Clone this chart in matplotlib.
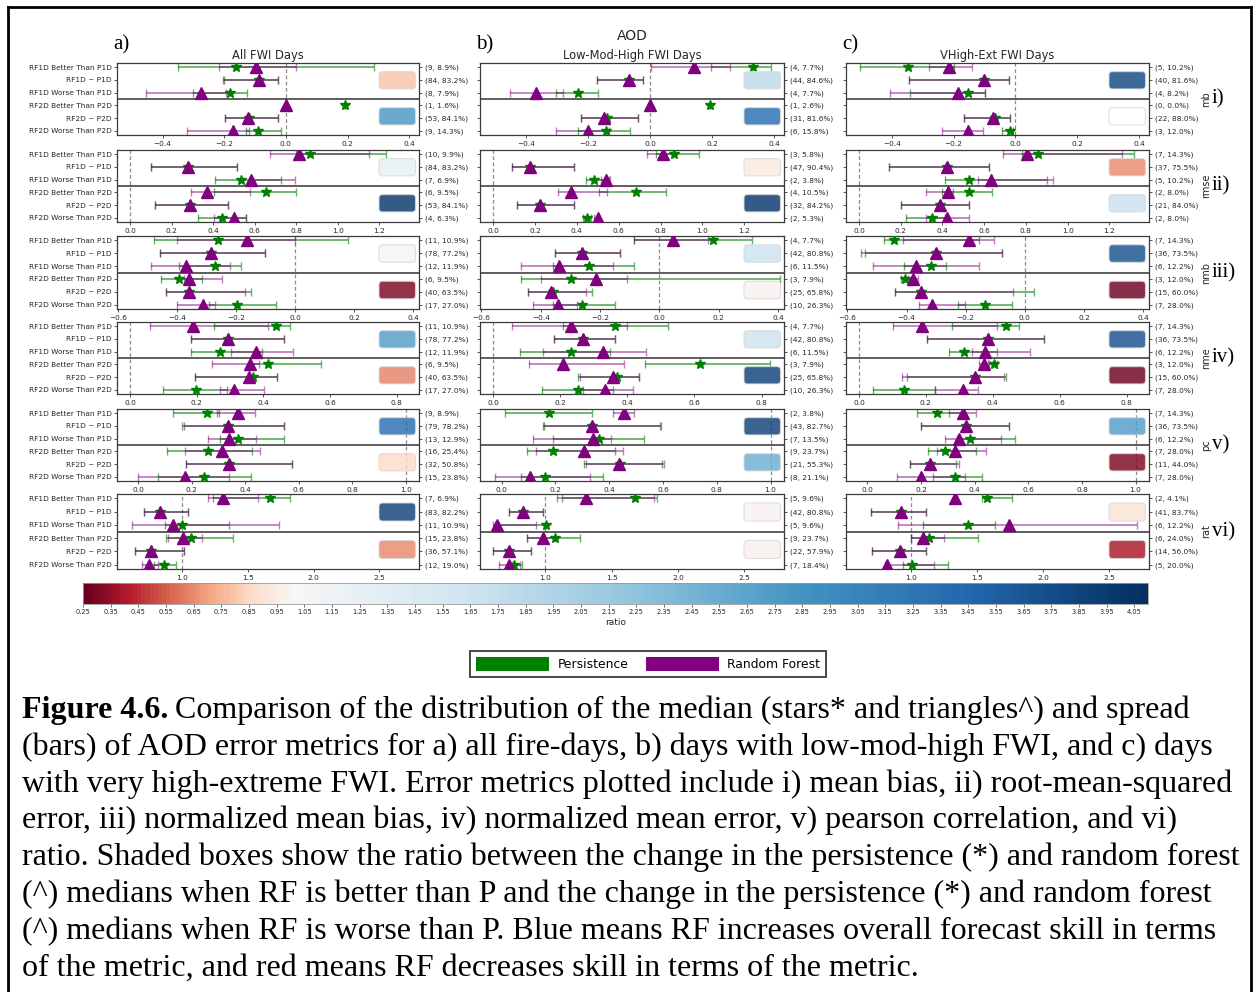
import numpy as np
import matplotlib
matplotlib.use("Agg")
import matplotlib.pyplot as plt
from matplotlib.colors import ListedColormap, Normalize
from matplotlib.patches import FancyBboxPatch, Patch
from matplotlib.lines import Line2D
from matplotlib.cm import ScalarMappable
from matplotlib.ticker import MultipleLocator

# ---------------------------------------------------------------- data
row_labels = ["RF1D Better Than P1D", "RF1D ~ P1D", "RF1D Worse Than P1D",
              "RF2D Better Than P2D", "RF2D ~ P2D", "RF2D Worse Than P2D"]
col_tags = ["a)", "b)", "c)"]
col_titles = ["All FWI Days", "Low-Mod-High FWI Days", "VHigh-Ext FWI Days"]
metric_names = ["mb", "rmse", "nmb", "nme", "pc", "rat"]
metric_tags = ["i)", "ii)", "iii)", "iv)", "v)", "vi)"]
ref_values = [0.0, 0.0, 0.0, 0.0, 1.0, 1.0]
x_limits = [(-0.548, 0.432), (-0.0625, 1.39), (-0.605, 0.42),
            (-0.039, 0.867), (-0.08, 1.05), (0.507, 2.80)]
x_steps = [0.2, 0.2, 0.2, 0.2, 0.2, 0.5]

NAN3 = (np.nan, np.nan, np.nan)

# (low, median, high) per row; one list per column a, b, c
mb_persist = [
    [(-0.351, -0.161, 0.286), (-0.202, -0.088, -0.026), (-0.303, -0.181, -0.126),
     (0.192, 0.192, 0.192), (-0.199, -0.120, -0.027), (-0.130, -0.091, -0.016)],
    [(0.196, 0.332, 0.391), (-0.170, -0.068, -0.022), (-0.304, -0.233, -0.169),
     (0.194, 0.194, 0.194), (-0.221, -0.140, -0.040), (-0.232, -0.143, -0.065)],
    [(-0.502, -0.346, -0.199), (-0.344, -0.102, -0.021), (-0.340, -0.153, -0.100),
     NAN3, (-0.166, -0.065, -0.016), (-0.043, -0.018, -0.008)],
]
mb_rf = [
    [(-0.216, -0.097, 0.034), (-0.204, -0.086, -0.026), (-0.454, -0.275, -0.194),
     (0.0, 0.0, 0.0), (-0.199, -0.123, -0.027), (-0.321, -0.170, -0.121)],
    [(0.002, 0.142, 0.257), (-0.170, -0.068, -0.022), (-0.451, -0.367, -0.280),
     (0.0, 0.0, 0.0), (-0.221, -0.148, -0.040), (-0.302, -0.199, -0.132)],
    [(-0.281, -0.214, -0.140), (-0.344, -0.102, -0.021), (-0.405, -0.185, -0.100),
     NAN3, (-0.166, -0.073, -0.016), (-0.238, -0.153, -0.104)],
]
rmse_persist = [
    [(0.80, 0.864, 1.232), (0.101, 0.280, 0.515), (0.408, 0.533, 0.728),
     (0.405, 0.653, 0.800), (0.120, 0.291, 0.469), (0.328, 0.443, 0.560)],
    [(0.78, 0.863, 0.982), (0.092, 0.177, 0.388), (0.443, 0.480, 0.555),
     (0.507, 0.681, 0.828), (0.114, 0.222, 0.388), (0.430, 0.447, 0.470)],
    [(0.78, 0.859, 1.317), (0.144, 0.420, 0.623), (0.410, 0.527, 0.899),
     (0.400, 0.527, 0.638), (0.203, 0.388, 0.527), (0.223, 0.348, 0.410)],
]
rmse_rf = [
    [(0.672, 0.813, 1.149), (0.101, 0.280, 0.515), (0.576, 0.581, 0.792),
     (0.293, 0.368, 0.576), (0.120, 0.291, 0.469), (0.405, 0.499, 0.560)],
    [(0.735, 0.811, 0.860), (0.092, 0.177, 0.388), (0.515, 0.538, 0.559),
     (0.309, 0.372, 0.546), (0.114, 0.222, 0.388), (0.480, 0.502, 0.505)],
    [(0.691, 0.806, 1.261), (0.144, 0.420, 0.623), (0.571, 0.634, 0.931),
     (0.322, 0.426, 0.450), (0.203, 0.388, 0.527), (0.319, 0.420, 0.527)],
]
nmb_persist = [
    [(-0.478, -0.261, 0.178), (-0.459, -0.286, -0.102), (-0.394, -0.272, -0.183),
     (-0.454, -0.394, -0.316), (-0.440, -0.360, -0.149), (-0.292, -0.199, -0.066)],
    [(-0.087, 0.179, 0.311), (-0.353, -0.260, -0.132), (-0.358, -0.237, -0.085),
     (-0.466, -0.297, 0.407), (-0.443, -0.360, -0.229), (-0.358, -0.260, -0.150)],
    [(-0.478, -0.441, -0.154), (-0.540, -0.302, -0.078), (-0.409, -0.316, -0.268),
     (-0.420, -0.406, -0.380), (-0.439, -0.350, 0.030), (-0.227, -0.135, -0.042)],
]
nmb_rf = [
    [(-0.403, -0.163, 0.0), (-0.459, -0.286, -0.102), (-0.490, -0.370, -0.221),
     (-0.379, -0.361, -0.247), (-0.440, -0.359, -0.169), (-0.401, -0.314, -0.272)],
    [(-0.087, 0.045, 0.164), (-0.353, -0.260, -0.132), (-0.466, -0.337, -0.155),
     (-0.399, -0.215, -0.111), (-0.443, -0.367, -0.249), (-0.427, -0.341, -0.277)],
    [(-0.413, -0.190, -0.104), (-0.553, -0.302, -0.078), (-0.512, -0.369, -0.154),
     (-0.395, -0.378, -0.360), (-0.439, -0.350, -0.039), (-0.359, -0.313, -0.204)],
]
nme_persist = [
    [(0.253, 0.438, 0.480), (0.183, 0.295, 0.463), (0.183, 0.270, 0.395),
     (0.360, 0.415, 0.573), (0.195, 0.368, 0.440), (0.100, 0.197, 0.290)],
    [(0.209, 0.363, 0.520), (0.182, 0.269, 0.363), (0.080, 0.232, 0.348),
     (0.453, 0.617, 0.824), (0.252, 0.368, 0.435), (0.147, 0.252, 0.358)],
    [(0.279, 0.440, 0.477), (0.202, 0.387, 0.552), (0.269, 0.315, 0.412),
     (0.390, 0.405, 0.412), (0.142, 0.347, 0.440), (0.042, 0.134, 0.227)],
]
nme_rf = [
    [(0.060, 0.188, 0.415), (0.183, 0.295, 0.463), (0.303, 0.378, 0.490),
     (0.245, 0.360, 0.387), (0.195, 0.358, 0.440), (0.270, 0.312, 0.402)],
    [(0.057, 0.232, 0.398), (0.182, 0.269, 0.363), (0.149, 0.328, 0.455),
     (0.106, 0.209, 0.391), (0.259, 0.358, 0.435), (0.269, 0.333, 0.418)],
    [(0.102, 0.189, 0.412), (0.202, 0.387, 0.552), (0.337, 0.377, 0.512),
     (0.360, 0.375, 0.385), (0.129, 0.347, 0.434), (0.227, 0.310, 0.357)],
]
pc_persist = [
    [(0.131, 0.255, 0.300), (0.170, 0.334, 0.545), (0.305, 0.374, 0.545),
     (0.106, 0.259, 0.426), (0.178, 0.339, 0.573), (0.075, 0.247, 0.421)],
    [(0.012, 0.178, 0.338), (0.157, 0.336, 0.590), (0.191, 0.364, 0.530),
     (0.093, 0.190, 0.422), (0.305, 0.440, 0.595), (0.074, 0.160, 0.377)],
    [(0.183, 0.258, 0.357), (0.200, 0.368, 0.527), (0.335, 0.384, 0.551),
     (0.227, 0.291, 0.403), (0.157, 0.235, 0.332), (0.244, 0.326, 0.427)],
]
pc_rf = [
    [(0.293, 0.374, 0.436), (0.164, 0.334, 0.545), (0.262, 0.339, 0.440),
     (0.174, 0.314, 0.455), (0.178, 0.339, 0.573), (0.0, 0.174, 0.339)],
    [(0.416, 0.456, 0.494), (0.153, 0.336, 0.593), (0.117, 0.340, 0.406),
     (0.128, 0.305, 0.453), (0.314, 0.438, 0.604), (-0.025, 0.107, 0.330)],
    [(0.304, 0.356, 0.406), (0.200, 0.368, 0.527), (0.291, 0.341, 0.498),
     (0.260, 0.326, 0.442), (0.157, 0.235, 0.341), (0.109, 0.198, 0.362)],
]
rat_persist = [
    [(1.233, 1.666, 1.822), (0.715, 0.836, 1.044), (0.869, 1.000, 1.360),
     (0.879, 1.069, 1.385), (0.647, 0.766, 1.013), (0.790, 0.867, 0.955)],
    [(1.122, 1.675, 1.845), (0.728, 0.830, 0.982), (0.620, 1.003, 1.003),
     (0.860, 1.071, 1.261), (0.607, 0.728, 0.888), (0.749, 0.766, 0.825)],
    [(1.535, 1.573, 1.763), (0.694, 0.927, 1.116), (1.091, 1.432, 1.636),
     (0.997, 1.136, 1.503), (0.700, 0.914, 1.116), (0.939, 1.010, 1.280)],
]
rat_rf = [
    [(1.198, 1.309, 1.577), (0.715, 0.836, 1.044), (0.621, 0.932, 1.734),
     (0.894, 1.008, 1.152), (0.647, 0.766, 1.013), (0.697, 0.753, 0.820)],
    [(1.091, 1.307, 1.820), (0.728, 0.830, 0.982), (0.607, 0.635, 0.930),
     (0.860, 0.982, 1.070), (0.607, 0.728, 0.888), (0.647, 0.723, 0.805)],
    [(1.333, 1.333, 1.333), (0.694, 0.927, 1.116), (0.904, 1.737, 2.707),
     (0.997, 1.086, 1.250), (0.700, 0.914, 1.116), (0.800, 0.821, 1.174)],
]

# sample counts and shares per row (column a, b, c)
mb_counts = [[9, 84, 8, 1, 53, 9], [4, 44, 4, 1, 31, 6], [5, 40, 4, 0, 22, 3]]
mb_pct = [[8.9, 83.2, 7.9, 1.6, 84.1, 14.3], [7.7, 84.6, 7.7, 2.6, 81.6, 15.8],
          [10.2, 81.6, 8.2, 0.0, 88.0, 12.0]]
rmse_counts = [[10, 84, 7, 6, 53, 4], [3, 47, 2, 4, 32, 2], [7, 37, 5, 2, 21, 2]]
rmse_pct = [[9.9, 83.2, 6.9, 9.5, 84.1, 6.3], [5.8, 90.4, 3.8, 10.5, 84.2, 5.3],
            [14.3, 75.5, 10.2, 8.0, 84.0, 8.0]]
nmb_counts = [[11, 78, 12, 6, 40, 17], [4, 42, 6, 3, 25, 10], [7, 36, 6, 3, 15, 7]]
nmb_pct = [[10.9, 77.2, 11.9, 9.5, 63.5, 27.0], [7.7, 80.8, 11.5, 7.9, 65.8, 26.3],
           [14.3, 73.5, 12.2, 12.0, 60.0, 28.0]]
nme_counts = [[11, 78, 12, 6, 40, 17], [4, 42, 6, 3, 25, 10], [7, 36, 6, 3, 15, 7]]
nme_pct = [[10.9, 77.2, 11.9, 9.5, 63.5, 27.0], [7.7, 80.8, 11.5, 7.9, 65.8, 26.3],
           [14.3, 73.5, 12.2, 12.0, 60.0, 28.0]]
pc_counts = [[9, 79, 13, 16, 32, 15], [2, 43, 7, 9, 21, 8], [7, 36, 6, 7, 11, 7]]
pc_pct = [[8.9, 78.2, 12.9, 25.4, 50.8, 23.8], [3.8, 82.7, 13.5, 23.7, 55.3, 21.1],
          [14.3, 73.5, 12.2, 28.0, 44.0, 28.0]]
rat_counts = [[7, 83, 11, 15, 36, 12], [5, 42, 5, 9, 22, 7], [2, 41, 6, 6, 14, 5]]
rat_pct = [[6.9, 82.2, 10.9, 23.8, 57.1, 19.0], [9.6, 80.8, 9.6, 23.7, 57.9, 18.4],
           [4.1, 83.7, 12.2, 24.0, 56.0, 20.0]]

# ratio of median changes, [RF1D block, RF2D block] per column
mb_ratio = [[0.79, 2.80], [1.80, 3.36], [3.79, np.nan]]
rmse_ratio = [[1.25, 4.00], [0.94, 4.00], [0.655, 1.70]]
nmb_ratio = [[1.10, 0.31], [1.65, 0.98], [3.70, 0.28]]
nme_ratio = [[2.74, 0.64], [1.65, 3.90], [3.70, 0.28]]
pc_ratio = [[3.36, 0.865], [3.90, 2.55], [2.74, 0.31]]
rat_ratio = [[3.90, 0.655], [0.98, 0.97], [0.90, 0.40]]

persist_sets = [mb_persist, rmse_persist, nmb_persist, nme_persist, pc_persist, rat_persist]
rf_sets = [mb_rf, rmse_rf, nmb_rf, nme_rf, pc_rf, rat_rf]
count_sets = [mb_counts, rmse_counts, nmb_counts, nme_counts, pc_counts, rat_counts]
pct_sets = [mb_pct, rmse_pct, nmb_pct, nme_pct, pc_pct, rat_pct]
ratio_sets = [mb_ratio, rmse_ratio, nmb_ratio, nme_ratio, pc_ratio, rat_ratio]

CB_MIN, CB_MAX = 0.25, 4.10

caption_lines = [
    "Comparison of the distribution of the median (stars* and triangles^) and spread",
    "(bars) of AOD error metrics for a) all fire-days, b) days with low-mod-high FWI, and c) days",
    "with very high-extreme FWI. Error metrics plotted include i) mean bias, ii) root-mean-squared",
    "error, iii) normalized mean bias, iv) normalized mean error, v) pearson correlation, and vi)",
    "ratio. Shaded boxes show the ratio between the change in the persistence (*) and random forest",
    "(^) medians when RF is better than P and the change in the persistence (*) and random forest",
    "(^) medians when RF is worse than P. Blue means RF increases overall forecast skill in terms",
    "of the metric, and red means RF decreases skill in terms of the metric.",
]

# ---------------------------------------------------------------- layout
W, H = 1255, 992
fig = plt.figure(figsize=(W / 100, H / 100), dpi=100)
fig.patch.set_facecolor("white")


def fx(px):
    return px / W


def fy(py):
    return 1 - py / H


col_left = [117, 480, 846]
col_right = [419, 784, 1149]
blk_top = [63, 150, 236, 322, 409, 494]
blk_bot = [135, 222, 309, 394, 481, 569]

P_COLOR = "#008000"
RF_COLOR = "#800080"
TXT = "#262626"
SPINE = "#3a3a3a"
FS = 5.3

base = plt.get_cmap("RdBu")
vals = np.linspace(CB_MIN, CB_MAX, 256)
pos = np.where(vals < 1, 0.5 * (vals - CB_MIN) / (1 - CB_MIN),
               0.5 + 0.5 * (vals - 1) / (CB_MAX - 1))
ratio_cmap = ListedColormap(base(pos))
ratio_norm = Normalize(CB_MIN, CB_MAX)


def draw_stat(ax, y, stat, color, marker, ms, bar_alpha, z):
    lo, med, hi = stat
    if np.isnan(med):
        return
    ax.errorbar([med], [y], xerr=[[med - lo], [hi - med]], fmt="none",
                ecolor=color, alpha=bar_alpha, elinewidth=1.3, capsize=2.6,
                capthick=1.0, zorder=z)
    ax.plot([med], [y], marker=marker, color=color, ms=ms, ls="none",
            mec=color, zorder=z + 2)


def add_box(x0, y0, x1, y1, value):
    if np.isnan(value):
        fc = "white"
    else:
        fc = ratio_cmap(ratio_norm(value))
    box = FancyBboxPatch((fx(x0), fy(y1)), fx(x1 - x0), (y1 - y0) / H,
                         boxstyle="round,pad=0,rounding_size=0.0028",
                         mutation_aspect=W / H, transform=fig.transFigure,
                         facecolor=fc, edgecolor="#d9d9d9", lw=0.8, alpha=0.82,
                         zorder=5)
    fig.add_artist(box)


for c in range(3):
    for m in range(6):
        top, bot = blk_top[m], blk_bot[m]
        ax = fig.add_axes([fx(col_left[c]), fy(bot), fx(col_right[c] - col_left[c]),
                           (bot - top) / H])
        ax.set_facecolor("white")
        ax.set_xlim(*x_limits[m])
        ax.set_ylim(5.32, -0.32)
        ax.xaxis.set_major_locator(MultipleLocator(x_steps[m]))
        ax.set_yticks(range(6))
        if c == 0:
            ax.set_yticklabels(row_labels)
        else:
            ax.set_yticklabels([])
        ax.tick_params(axis="both", labelsize=FS, colors=SPINE, labelcolor=TXT,
                       length=2.5, width=0.6, pad=1.5)
        for sp in ax.spines.values():
            sp.set_color(SPINE)
            sp.set_linewidth(0.9)
        ax.axvline(ref_values[m], color="#8c8c8c", lw=0.9, ls=(0, (3, 2)), zorder=1)
        ax.axhline(2.5, color="#505050", lw=1.3, zorder=2)

        for r in range(6):
            draw_stat(ax, r, persist_sets[m][c][r], P_COLOR, "*", 7.5, 0.6, 3)
            draw_stat(ax, r, rf_sets[m][c][r], RF_COLOR, "^", 8.0, 0.5, 4)

        ax2 = ax.twinx()
        ax2.set_ylim(ax.get_ylim())
        ax2.set_yticks(range(6))
        ax2.set_yticklabels([f"({n}, {p:.1f}%)" for n, p in
                             zip(count_sets[m][c], pct_sets[m][c])])
        ax2.tick_params(axis="y", labelsize=FS, colors=SPINE, labelcolor=TXT,
                        length=2.5, width=0.6, pad=1.5)
        for sp in ax2.spines.values():
            sp.set_visible(False)

        # shaded ratio boxes
        hgt = bot - top
        bx1 = col_right[c] - 3.5
        bx0 = bx1 - 36.5
        add_box(bx0, top + 0.12 * hgt, bx1, top + 0.36 * hgt, ratio_sets[m][c][0])
        add_box(bx0, top + 0.62 * hgt, bx1, top + 0.86 * hgt, ratio_sets[m][c][1])

        if c == 2:
            mid = 0.5 * (top + bot)
            fig.text(fx(1206), fy(mid), metric_names[m], rotation=90, fontsize=7,
                     color=TXT, ha="center", va="center")
            fig.text(fx(1212), fy(mid), metric_tags[m], fontsize=15,
                     family="Liberation Serif", ha="left", va="center")

    cx = 0.5 * (col_left[c] + col_right[c])
    fig.text(fx(cx), fy(55), col_titles[c], fontsize=8.3, color=TXT,
             ha="center", va="center")
    fig.text(fx(col_left[c] - 4), fy(45), col_tags[c], fontsize=15,
             family="Liberation Serif", ha="left", va="center")

fig.text(fx(0.5 * (col_left[1] + col_right[1])), fy(36), "AOD", fontsize=10,
         color=TXT, ha="center", va="center")

# ---------------------------------------------------------------- colorbar
cax = fig.add_axes([fx(83), fy(604), fx(1148 - 83), 21 / H])
cb = fig.colorbar(ScalarMappable(norm=ratio_norm, cmap=ratio_cmap), cax=cax,
                  orientation="horizontal")
ticks = np.round(np.arange(0.25, 4.06, 0.1), 2)
cb.set_ticks(ticks)
cb.set_ticklabels([f"{t:.2f}" for t in ticks])
cb.ax.tick_params(labelsize=4.8, length=2, width=0.5, pad=1.5, colors=SPINE,
                  labelcolor=TXT)
cb.outline.set_edgecolor("#9a9a9a")
cb.outline.set_linewidth(0.6)
cb.set_label("ratio", fontsize=6.5, color=TXT, labelpad=2)

# ---------------------------------------------------------------- legend
handles = [Patch(facecolor=P_COLOR, edgecolor="none", label="Persistence"),
           Patch(facecolor=RF_COLOR, edgecolor="none", label="Random Forest")]
leg = fig.legend(handles=handles, loc="center", bbox_to_anchor=(fx(648), fy(664)),
                 ncol=2, fontsize=8.9, frameon=True, fancybox=False,
                 handlelength=5.9, handleheight=1.35, columnspacing=1.4,
                 handletextpad=0.7, borderpad=0.45, borderaxespad=0)
leg.get_frame().set_edgecolor("#1a1a1a")
leg.get_frame().set_linewidth(1.4)

# ---------------------------------------------------------------- caption
renderer = fig.canvas.get_renderer()
cap_fs = 23.05
x0 = fx(22)
base_y = 718
step = 36.8
bold = fig.text(x0, fy(base_y), "Figure 4.6.", fontsize=cap_fs, fontweight="bold",
                family="Liberation Serif", ha="left", va="baseline")
bw = bold.get_window_extent(renderer).width
fig.text(x0 + (bw + 7) / W, fy(base_y), caption_lines[0], fontsize=cap_fs,
         family="Liberation Serif", ha="left", va="baseline")
for i, line in enumerate(caption_lines[1:], start=1):
    fig.text(x0, fy(base_y + i * step), line, fontsize=cap_fs,
             family="Liberation Serif", ha="left", va="baseline")

# outer frame
fig.add_artist(Line2D([fx(8), fx(1251)], [fy(7), fy(7)], color="black", lw=2,
                      transform=fig.transFigure))
fig.add_artist(Line2D([fx(8), fx(8)], [fy(7), fy(992)], color="black", lw=2,
                      transform=fig.transFigure))
fig.add_artist(Line2D([fx(1251), fx(1251)], [fy(7), fy(992)], color="black", lw=2,
                      transform=fig.transFigure))

fig.savefig("out.png", dpi=100, facecolor="white")
